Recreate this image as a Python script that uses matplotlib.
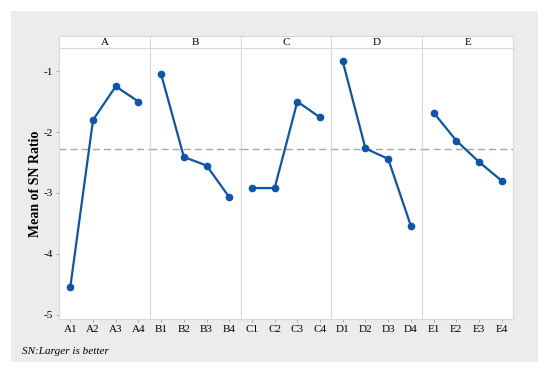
import matplotlib.pyplot as plt
from matplotlib.patches import Rectangle

# Data
factors = ['A', 'B', 'C', 'D', 'E']
levels = [1, 2, 3, 4]
sn_A = [-4.54, -1.80, -1.25, -1.50]
sn_B = [-1.05, -2.41, -2.55, -3.07]
sn_C = [-2.92, -2.92, -1.50, -1.76]
sn_D = [-0.84, -2.27, -2.44, -3.54]
sn_E = [-1.68, -2.14, -2.49, -2.80]
y_ticks = [-1, -2, -3, -4, -5]
note = 'SN:Larger is better'

all_sn = [sn_A, sn_B, sn_C, sn_D, sn_E]
grand_mean = sum(sum(s) for s in all_sn) / sum(len(s) for s in all_sn)

plt.rcParams['font.family'] = ['Liberation Serif', 'DejaVu Serif']
line_col = '#0b55aa'
edge_col = '#d9d9d9'

fig = plt.figure(figsize=(5.5, 3.75), dpi=100)
fig.patch.set_facecolor('white')
# light gray frame behind the chart
fig.patches.append(Rectangle((11/550, 1-362/375), 527/550, 351/375,
                             transform=fig.transFigure, facecolor='#ececec',
                             edgecolor='none', zorder=-10))

left = 59/550
right = 513/550
bottom = 1 - 319/375
top = 1 - 48/375
strip_top = 1 - 36/375
w = (right - left) / len(factors)

for i, (f, vals) in enumerate(zip(factors, all_sn)):
    ax = fig.add_axes([left + i*w, bottom, w, top - bottom])
    ax.set_facecolor('white')
    ax.plot(levels, vals, color=line_col, lw=1.6, marker='o', ms=4.5, zorder=3)
    ax.axhline(grand_mean, color='#a6a6a6', lw=1, ls=(0, (5, 3)), zorder=1)
    ax.set_xlim(0.5, 4.5)
    ax.set_ylim(-5.07, -0.62)
    ax.set_xticks(levels)
    ax.set_xticklabels([f + str(l) for l in levels], fontsize=8)
    ax.tick_params(axis='x', length=2.5, width=0.6, color='#a0a0a0', pad=2)
    ax.set_yticks(y_ticks)
    if i == 0:
        ax.set_yticklabels([str(t) for t in y_ticks], fontsize=8)
        ax.tick_params(axis='y', length=2.5, width=0.6, color='#a0a0a0', pad=2)
        ax.set_ylabel('Mean of SN Ratio', fontsize=10, fontweight='bold', labelpad=1)
    else:
        ax.tick_params(axis='y', left=False, labelleft=False)
    for s in ax.spines.values():
        s.set_color(edge_col)
        s.set_linewidth(0.8)
    # header strip
    sax = fig.add_axes([left + i*w, top, w, strip_top - top])
    sax.set_facecolor('white')
    sax.set_xticks([])
    sax.set_yticks([])
    for s in sax.spines.values():
        s.set_color(edge_col)
        s.set_linewidth(0.8)
    sax.text(0.5, 0.45, f, ha='center', va='center', fontsize=8, transform=sax.transAxes)

fig.text(22/550, 1 - 351/375, note, fontsize=8, style='italic', va='center')

fig.savefig('out.png', dpi=100)
